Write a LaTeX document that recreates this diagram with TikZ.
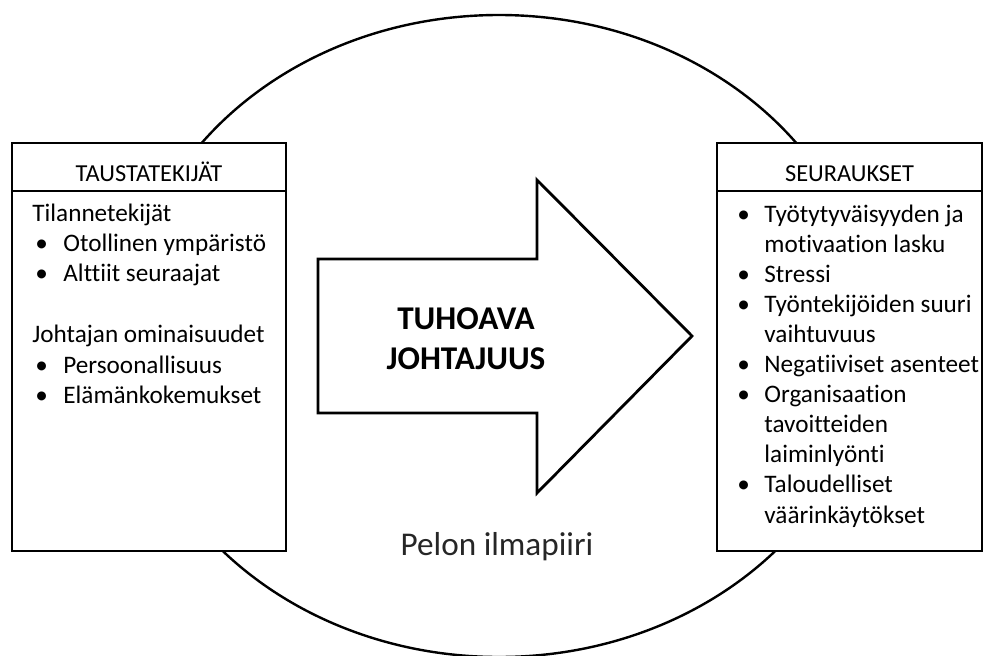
\documentclass[tikz,border=0pt]{standalone}
\usepackage{fontspec}
\setmainfont{Carlito}[Ligatures=NoCommon]
\usetikzlibrary{positioning,calc}

\begin{document}
\begin{tikzpicture}[
  x=0.5pt, y=0.5pt,
  panel/.style={draw=black, line width=1.4pt, fill=white, inner sep=0pt},
  headcell/.style={panel, minimum height=24pt, text height=14pt, text depth=0pt, font=\fontsize{12.2}{14}\selectfont},
  entry/.style={anchor=base west, inner sep=0pt, font=\fontsize{12.6}{14}\selectfont},
  bigtext/.style={inner sep=0pt, align=center, font=\fontsize{16.6}{20}\selectfont}
]
  \useasboundingbox (0,0) rectangle (984,655);
  % atmosphere of fear
  \draw[line width=1.2pt] (499,319) ellipse [x radius=186pt, y radius=160.5pt];
  \node[bigtext, anchor=base, text=black!85] (fear) at (497,100) {Pelon ilmapiiri};

  % left and right panels
  \node[panel, minimum width=137pt, minimum height=204pt] (causes) at (149,308) {};
  \node[headcell, minimum width=137pt, anchor=north] (causeshead) at (causes.north) {TAUSTATEKIJÄT};
  \node[panel, minimum width=132.5pt, minimum height=204pt] (effects) at (849.5,308) {};
  \node[headcell, minimum width=132.5pt, anchor=north] (effectshead) at (effects.north) {SEURAUKSET};

  % left panel lines
  \foreach \txt/\i in {Tilannetekijät/0, Johtajan ominaisuudet/4}
    \node[entry] (cause\i) at (32, {434-30.4*\i}) {\txt};
  \foreach \txt/\i in {Otollinen ympäristö/1, Alttiit seuraajat/2, Persoonallisuus/5, Elämänkokemukset/6} {
    \node[entry] (causeb\i) at (35, {434-30.4*\i}) {\textbullet};
    \node[entry] (cause\i) at (63, {434-30.4*\i}) {\txt};
  }

  % right panel lines
  \foreach \txt [count=\i from 0] in {Työtytyväisyyden ja, motivaation lasku, Stressi,
      Työntekijöiden suuri, vaihtuvuus, Negatiiviset asenteet, Organisaation,
      tavoitteiden, laiminlyönti, Taloudelliset, väärinkäytökset}
    \node[entry] (effect\i) at (764, {433-30.1*\i}) {\txt};
  \foreach \i in {0,2,3,5,6,9}
    \node[entry] (effectb\i) at (737, {433-30.1*\i}) {\textbullet};

  % the big arrow
  \draw[line width=1.4pt, line join=miter, fill=white]
    (318,242) coordinate (tail) -- (318,396) -- (537,396) -- (537,475)
    -- (692,319) coordinate (tip) -- (537,162) -- (537,242) -- cycle;
  \node[bigtext, anchor=north, font=\fontsize{16.6}{20}\selectfont\bfseries] (lead) at (466,348) {TUHOAVA\\JOHTAJUUS};
\end{tikzpicture}
\end{document}
